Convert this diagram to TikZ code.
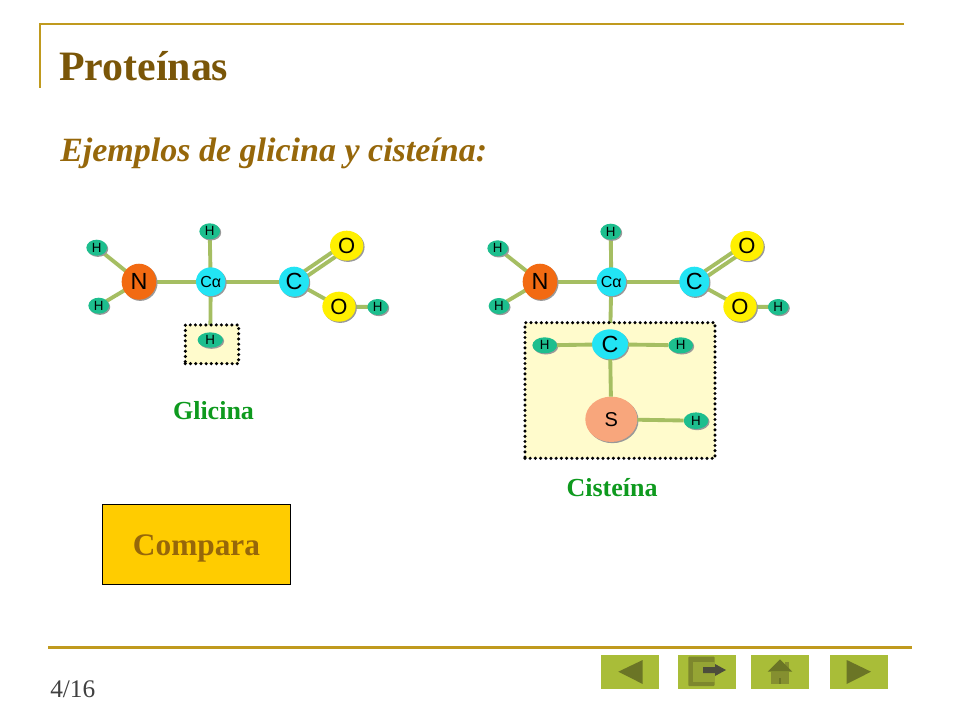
\documentclass[tikz,border=0pt]{standalone}
\usepackage{fontspec}
\setmainfont{Liberation Serif}
\newfontfamily\atomfont{Liberation Sans}
\usetikzlibrary{shadows,shapes.geometric}
\pgfdeclarelayer{paper}
\pgfdeclarelayer{bonds}
\pgfdeclarelayer{boxes}
\pgfsetlayers{paper,bonds,boxes,main}
\definecolor{gold}{HTML}{C09A1E}
\definecolor{titlebrown}{HTML}{7A5608}
\definecolor{subbrown}{HTML}{96670A}
\definecolor{greenlab}{HTML}{0E9A1E}
\definecolor{bondc}{HTML}{A5BE62}
\definecolor{hatom}{HTML}{1DBE8E}
\definecolor{natom}{HTML}{F26A12}
\definecolor{catom}{HTML}{22E4F4}
\definecolor{oatom}{HTML}{FFF000}
\definecolor{satom}{HTML}{F8A67C}
\definecolor{boxfill}{HTML}{FFFBCC}
\definecolor{btn}{HTML}{A9BD38}
\definecolor{btnd}{HTML}{6B7526}
\definecolor{btnm}{HTML}{858F30}
\definecolor{arrowd}{HTML}{4C4C3C}
\definecolor{cmpfill}{HTML}{FFCC00}
\tikzset{
  x=0.75pt,y=-0.75pt,
  atom/.style={ellipse,inner sep=0pt,outer sep=0pt,text=black,font=\atomfont,
    general shadow={shadow xshift=0.9pt,shadow yshift=-0.9pt,fill=black!40}},
  hyd/.style={atom,fill=hatom,minimum width=15.5pt,minimum height=12pt,font=\atomfont\fontsize{10}{10}\selectfont},
  nit/.style={atom,fill=natom,minimum width=26pt,minimum height=27pt,font=\atomfont\fontsize{17.5}{18}\selectfont},
  calpha/.style={atom,fill=catom,minimum width=21.5pt,minimum height=21.5pt,font=\atomfont\fontsize{12}{12}\selectfont},
  carb/.style={atom,fill=catom,minimum width=22.5pt,minimum height=22.5pt,font=\atomfont\fontsize{17.5}{18}\selectfont},
  oxy/.style={atom,fill=oatom,minimum width=25pt,minimum height=22.5pt,font=\atomfont\fontsize{16.5}{18}\selectfont},
  bond/.style={draw=bondc,line width=2.9pt},
  dotbox/.style={rectangle,fill=boxfill,draw=black,line width=2.6pt,line cap=round,dash pattern=on 0pt off 3.9pt,inner sep=0pt,outer sep=0pt},
  rule/.style={draw=gold,line width=2.1pt},
  btnbox/.style={rectangle,fill=btn,inner sep=0pt,outer sep=0pt,minimum width=43.5pt,minimum height=25.5pt},
  lab/.style={font=\bfseries\fontsize{19.5}{22}\selectfont,text=greenlab,inner sep=0pt},
}
\begin{document}
\begin{tikzpicture}
\useasboundingbox (0,0) rectangle (960,720);
\begin{pgfonlayer}{paper}
\fill[white] (0,0) rectangle (960,720);
\end{pgfonlayer}
% rules
\draw[rule] (904,24) -- (40,24) -- (40,88);
\draw[rule] (48,647.5) -- (912,647.5);
% headings
\node[anchor=base west,inner sep=0pt,text=titlebrown,font=\bfseries\fontsize{31.4}{34}\selectfont] (title) at (59,81) {Proteínas};
\node[anchor=base west,inner sep=0pt,text=subbrown,font=\bfseries\itshape\fontsize{25.5}{28}\selectfont] (sub) at (60,162) {Ejemplos de glicina y cisteína:};
\node[anchor=base west,inner sep=0pt,text=black!75,font=\fontsize{19}{20}\selectfont] (page) at (50,697) {4/16};
% compare button
\node[rectangle,draw=black,line width=0.6pt,fill=cmpfill,minimum width=141.5pt,minimum height=60.5pt,inner sep=0pt,text=subbrown,font=\bfseries\fontsize{23.5}{28}\selectfont] (cmp) at (196.5,544.5) {\raisebox{-8.6pt}[0pt][0pt]{Compara}};
% glicina
\node[nit] (n1) at (139,281.7) {N};
\node[calpha] (ca1) at (210.7,281.7) {Cα};
\node[carb] (c1) at (294,281.7) {C};
\node[oxy] (o1a) at (346.7,245.7) {O};
\node[oxy] (o1b) at (339,306.7) {O};
\node[hyd] (h1a) at (96.7,247.7) {H};
\node[hyd] (h1b) at (98.7,305.7) {H};
\node[hyd] (h1c) at (209.7,231.3) {H};
\node[hyd] (h1d) at (377.7,307) {H};
\node[hyd,minimum width=19pt,minimum height=11.5pt] (h1e) at (210.3,340) {H};
\begin{pgfonlayer}{boxes}
\node[dotbox,minimum width=40pt,minimum height=29pt] (box1) at (212,344.3) {};
\end{pgfonlayer}
\begin{pgfonlayer}{bonds}
\draw[bond] (n1.center) -- (h1a.center);
\draw[bond] (n1.center) -- (h1b.center);
\draw[bond] (n1.center) -- (ca1.center);
\draw[bond] (ca1.center) -- (c1.center);
\draw[bond] (ca1.center) -- (h1c.center);
\draw[bond] (ca1.center) -- (h1e.center);
\draw[bond] ([shift={(-1.6,-2.3)}]c1.center) -- ([shift={(-1.6,-2.3)}]o1a.center);
\draw[bond] ([shift={(1.6,2.3)}]c1.center) -- ([shift={(1.6,2.3)}]o1a.center);
\draw[bond] (c1.center) -- (o1b.center);
\draw[bond] (o1b.center) -- (h1d.center);
\end{pgfonlayer}
\node[lab] (gli) at (213.5,411) {Glicina};
% cisteina
\node[nit] (n2) at (540,281.7) {N};
\node[calpha] (ca2) at (611.3,281.7) {Cα};
\node[carb] (c2) at (694.3,281.7) {C};
\node[oxy] (o2a) at (747,246) {O};
\node[oxy] (o2b) at (740,306.7) {O};
\node[hyd] (h2a) at (497.7,248.3) {H};
\node[hyd] (h2b) at (499,306) {H};
\node[hyd] (h2c) at (610.7,231.7) {H};
\node[hyd] (h2d) at (778.3,307) {H};
\node[carb,minimum width=27pt,minimum height=22.5pt] (c3) at (610,344.3) {C};
\node[hyd,minimum width=18.5pt] (h3a) at (544.7,345.3) {H};
\node[hyd,minimum width=18.5pt] (h3b) at (680.7,345.3) {H};
\node[atom,fill=satom,minimum width=39pt,minimum height=34pt,font=\atomfont\fontsize{15}{18}\selectfont] (s3) at (611.3,419.3) {S};
\node[hyd,minimum width=18.5pt,minimum height=12.5pt] (h3c) at (696,420.7) {H};
\begin{pgfonlayer}{boxes}
\node[dotbox,minimum width=142.5pt,minimum height=101.7pt] (box2) at (620,390.5) {};
\end{pgfonlayer}
\begin{pgfonlayer}{bonds}
\draw[bond] (n2.center) -- (h2a.center);
\draw[bond] (n2.center) -- (h2b.center);
\draw[bond] (n2.center) -- (ca2.center);
\draw[bond] (ca2.center) -- (c2.center);
\draw[bond] (ca2.center) -- (h2c.center);
\draw[bond] (ca2.center) -- (c3.center);
\draw[bond] ([shift={(-1.6,-2.3)}]c2.center) -- ([shift={(-1.6,-2.3)}]o2a.center);
\draw[bond] ([shift={(1.6,2.3)}]c2.center) -- ([shift={(1.6,2.3)}]o2a.center);
\draw[bond] (c2.center) -- (o2b.center);
\draw[bond] (o2b.center) -- (h2d.center);
\end{pgfonlayer}
\draw[bond] (c3) -- (h3a);
\draw[bond] (c3) -- (h3b);
\draw[bond] (c3) -- (s3);
\draw[bond] (s3) -- (h3c);
\node[lab] (cis) at (612,488) {Cisteína};
% navigation buttons
\node[btnbox,anchor=north west] (b1) at (601,655) {};
\node[btnbox,anchor=north west] (b2) at (678,655) {};
\node[btnbox,anchor=north west] (b3) at (751,655) {};
\node[btnbox,anchor=north west] (b4) at (830,655) {};
\fill[btnd] (618.3,671.7) -- (642.7,660) -- (642.7,684) -- cycle;
\fill[btnd] (871,671.7) -- (846.7,660) -- (846.7,684) -- cycle;
\fill[btnm!70!btnd,rounded corners=0.6pt] (688.3,656.7) rectangle (714.5,686);
\fill[btnm!55!btn] (693.3,661.7) rectangle (714.5,681.7);
\fill[arrowd] (703,667) -- (715,667) -- (715,664) -- (726,670) -- (715,676) -- (715,673) -- (703,673) -- cycle;
\fill[btnm] (785,661.5) rectangle (788.5,668);
\fill[btnm] (771,671.7) rectangle (789,684);
\fill[btnd] (780,659.3) -- (792.3,671.7) -- (767.7,671.7) -- cycle;
\fill[btnd] (779,678) rectangle (781,684);
\end{tikzpicture}
\end{document}
